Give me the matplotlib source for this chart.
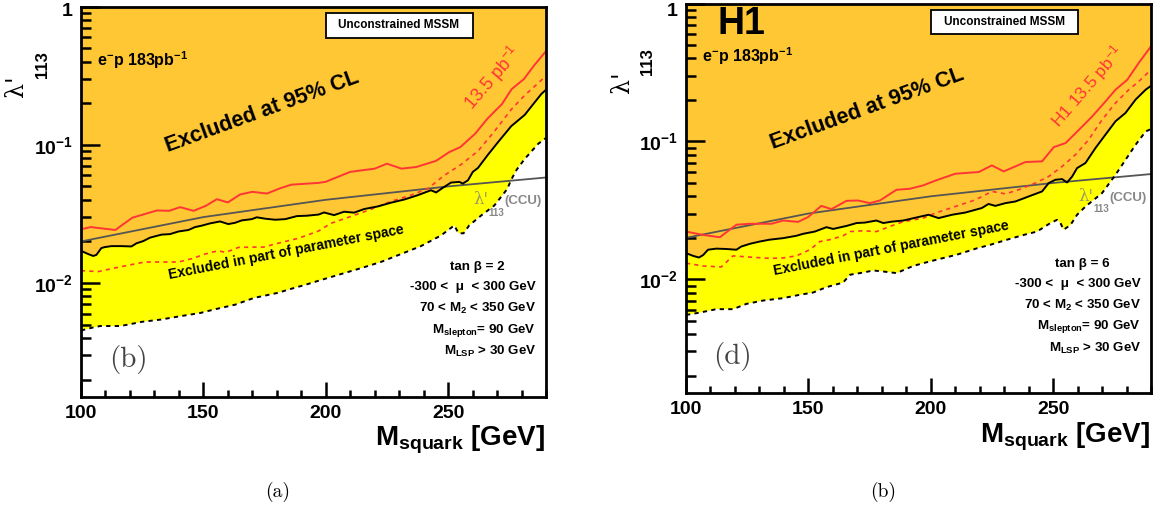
import matplotlib
matplotlib.use('Agg')
import matplotlib.pyplot as plt
from matplotlib.ticker import FixedLocator, NullFormatter, LogLocator, MultipleLocator, FixedFormatter
from matplotlib.patches import Rectangle
from matplotlib.transforms import ScaledTranslation
import numpy as np

# ---------------- data ----------------
ccu_m = [100, 150, 200, 250, 290]
ccu_l = [0.020, 0.030, 0.040, 0.050, 0.058]

# panel (a): tan beta = 2
a_red_m = [100, 104, 114, 121, 131, 136, 140.5, 146, 151, 155.5, 160, 165, 170, 176, 181, 186, 197, 200, 210,
           220, 225, 231, 237, 245, 250.5, 255, 261, 266, 272, 276, 281, 285, 290]
a_red_l = [0.0245, 0.0254, 0.0242, 0.0297, 0.0335, 0.0333, 0.0354, 0.0333, 0.0362, 0.0404, 0.0383, 0.0437,
           0.0457, 0.0444, 0.0482, 0.0515, 0.0530, 0.0540, 0.0637, 0.0672, 0.0730, 0.0672, 0.0691, 0.0764,
           0.0886, 0.0962, 0.120, 0.154, 0.197, 0.253, 0.299, 0.372, 0.476]
a_blk_m = [100, 103, 105, 106.3, 108.3, 109.7, 112.4, 116.5, 120.6, 122.7, 125.4, 128.2, 132.9, 136.4, 139.8,
           143.9, 146.6, 149.3, 152.7, 156.8, 160.2, 163, 165.7, 169.8, 171.8, 175.3, 179.4, 183.5, 188.2,
           192.3, 197.1, 199.3, 203.4, 207.5, 211.6, 215.7, 221.2, 226.6, 232.1, 237.6, 243, 245.1, 247.8,
           251.2, 254.6, 256, 258.1, 260.1, 262.2, 266.3, 270.4, 275.8, 281.3, 285.4, 288.1, 290]
a_blk_l = [0.0171, 0.0162, 0.0157, 0.0160, 0.0179, 0.0182, 0.0185, 0.0185, 0.0184, 0.0194, 0.0201, 0.0213,
           0.0224, 0.0226, 0.0236, 0.0242, 0.0254, 0.0260, 0.0270, 0.0279, 0.0267, 0.0273, 0.0284, 0.0290,
           0.0299, 0.0292, 0.0287, 0.0290, 0.0305, 0.0307, 0.0313, 0.0324, 0.0310, 0.0328, 0.0323, 0.0343,
           0.0358, 0.0381, 0.0402, 0.0432, 0.0469, 0.0452, 0.0488, 0.0533, 0.0539, 0.0524, 0.0553, 0.0637,
           0.0680, 0.0848, 0.1045, 0.1364, 0.1645, 0.203, 0.233, 0.250]
a_rdash_m = [100, 107, 112.4, 120.6, 126.1, 131.6, 139.8, 145.2, 150.7, 153.4, 156.1, 158.9, 161.6, 164.3,
             169.8, 174.6, 178, 183.5, 188.9, 197.1, 202, 210.2, 218.4, 226.6, 234.8, 241.7, 248.4, 255.3,
             262.2, 268.9, 275.8, 281.3, 285.4, 290]
a_rdash_l = [0.0123, 0.0121, 0.0127, 0.0136, 0.0142, 0.0142, 0.0142, 0.0150, 0.0162, 0.0167, 0.0171, 0.0167,
             0.0173, 0.0181, 0.0182, 0.0182, 0.0189, 0.0200, 0.0211, 0.0238, 0.0270, 0.0303, 0.0341, 0.0389,
             0.0432, 0.0482, 0.0600, 0.0720, 0.0900, 0.125, 0.180, 0.228, 0.265, 0.315]
a_low_m = [100, 104.2, 107.8, 116, 119.3, 124.7, 132.4, 140.6, 148.8, 154.2, 163, 170.6, 180.2, 187, 191.7,
           197.1, 206.1, 214.3, 222.5, 230.7, 238.9, 247.1, 252.5, 254.3, 256.3, 258.6, 263.5, 268.9, 274.2,
           275.8, 278, 281.3, 286.8, 290]
a_low_l = [0.00454, 0.00474, 0.00489, 0.00489, 0.00501, 0.00524, 0.00544, 0.00576, 0.00608, 0.00643, 0.00698,
           0.00780, 0.00848, 0.00921, 0.00972, 0.0104, 0.0116, 0.0128, 0.0142, 0.0162, 0.0185, 0.0221, 0.0261,
           0.0229, 0.0229, 0.0261, 0.0308, 0.0364, 0.0480, 0.0560, 0.0660, 0.0790, 0.1016, 0.112]

# panel (b): tan beta = 6
b_red_m = [100, 107, 113.8, 120.6, 126.1, 134.9, 139.7, 145.8, 149.9, 155.3, 159.4, 165.6, 170.3, 175.1, 179.2,
           186, 191.5, 196.9, 201.8, 210, 219.6, 225, 229.8, 238.7, 245.5, 250.3, 255.1, 260.6, 266, 271.4,
           275.5, 280.3, 285, 290]
b_red_l = [0.0222, 0.0210, 0.0202, 0.0249, 0.0253, 0.0253, 0.0267, 0.0261, 0.0283, 0.0341, 0.0323, 0.0371,
           0.0373, 0.0357, 0.0373, 0.0446, 0.0454, 0.0480, 0.0519, 0.0583, 0.0600, 0.0670, 0.0606, 0.0709,
           0.0717, 0.0910, 0.0973, 0.1216, 0.152, 0.195, 0.237, 0.280, 0.371, 0.489]
b_blk_m = [100, 102.9, 105.3, 107, 109, 112.4, 116.5, 120.6, 122.6, 126.1, 130.1, 134.2, 139.7, 145.1, 147.9,
           152.6, 157.4, 160.1, 165.6, 169.7, 173.1, 177.8, 180.6, 184, 188.8, 194.2, 199.1, 203.2, 208.7,
           214.1, 220.9, 223.6, 226.4, 230.5, 234.6, 240, 245.5, 248.2, 250.9, 253.7, 255.7, 257.8, 259.8,
           263.2, 267.3, 271.4, 275.5, 279.6, 283.7, 287.8, 290]
b_blk_l = [0.0155, 0.0148, 0.0144, 0.0150, 0.0164, 0.0167, 0.0166, 0.0164, 0.0173, 0.0181, 0.0188, 0.0194,
           0.0199, 0.0207, 0.0214, 0.0222, 0.0239, 0.0232, 0.0244, 0.0256, 0.0258, 0.0267, 0.0256, 0.0262,
           0.0267, 0.0281, 0.0294, 0.0278, 0.0294, 0.0305, 0.0329, 0.0352, 0.0341, 0.0357, 0.0367, 0.0399,
           0.0434, 0.0499, 0.0527, 0.0533, 0.0504, 0.0557, 0.0641, 0.0697, 0.0895, 0.112, 0.140, 0.161,
           0.201, 0.237, 0.253]
b_rdash_m = [100, 107, 114.4, 119.2, 126.1, 134.2, 139.7, 145.1, 150.6, 154.7, 158.8, 164.2, 167, 172.4, 177.8,
             183.3, 188.8, 196.9, 201.8, 210, 218.2, 225, 230.5, 235.9, 242.7, 248.2, 253.7, 259.1, 264.5,
             270, 275.5, 280.9, 285, 290]
b_rdash_l = [0.0131, 0.0125, 0.0123, 0.0148, 0.0145, 0.0142, 0.0143, 0.0148, 0.0164, 0.0188, 0.0194, 0.0207,
             0.0222, 0.0225, 0.0222, 0.0242, 0.0262, 0.0278, 0.0302, 0.0337, 0.0377, 0.0434, 0.0417, 0.0446,
             0.0499, 0.0557, 0.0659, 0.080, 0.1028, 0.1435, 0.190, 0.237, 0.272, 0.331]
b_low_m = [100, 105.6, 112.4, 119.2, 124.7, 131.5, 139.7, 146.5, 151.9, 157.4, 164.2, 167, 172.4, 176.5, 180.6,
           186, 192.8, 196.9, 202.5, 210.7, 218.9, 224.3, 231.2, 238, 243.4, 248.9, 251.6, 253, 254.3, 257.1,
           259.8, 263.2, 270, 275.5, 279.6, 283.7, 287.8, 290]
b_low_l = [0.00552, 0.00574, 0.00608, 0.00608, 0.00664, 0.00702, 0.00731, 0.00773, 0.00802, 0.00878, 0.00948,
           0.0108, 0.0112, 0.0116, 0.0114, 0.0111, 0.0125, 0.0131, 0.0139, 0.0151, 0.0168, 0.0178, 0.0194,
           0.0210, 0.0222, 0.0256, 0.0270, 0.0256, 0.0229, 0.0248, 0.0294, 0.0337, 0.0422, 0.0573, 0.0736,
           0.0946, 0.118, 0.123]

y_ticks = [0.01, 0.1, 1]
y_ticklabels = ['10$^{-2}$', '10$^{-1}$', '1']

# ---------------- styling ----------------
W, H = 1167, 514
plt.rcParams['font.family'] = ['Liberation Sans', 'DejaVu Sans']
plt.rcParams['mathtext.default'] = 'regular'

ORANGE = '#FFC733'
YELLOW = '#FFFF00'
RED = '#FF3535'
GRAY = '#555555'

fig = plt.figure(figsize=(W / 100, H / 100), dpi=100)


def fbox(l, t, r, b):
    return [l / W, 1 - b / H, (r - l) / W, (b - t) / H]


def ft(px, py, s, **kw):
    kw.setdefault('ha', 'center')
    kw.setdefault('va', 'center')
    return fig.text(px / W, 1 - py / H, s, **kw)


def panel(ax, red_m, red_l, blk_m, blk_l, rd_m, rd_l, low_m, low_l, top_shift):
    ax.set_yscale('log')
    ax.fill_between(blk_m, blk_l, 1.0, color=ORANGE, lw=0, zorder=1)
    ax.fill(np.r_[blk_m, low_m[::-1]], np.r_[blk_l, low_l[::-1]], color=YELLOW, lw=0, zorder=1)
    ax.plot(ccu_m, ccu_l, color=GRAY, lw=1.3, zorder=3)
    ax.plot(rd_m, rd_l, color=RED, lw=1.2, ls=(0, (2.5, 2.5)), zorder=3)
    ax.plot(red_m, red_l, color=RED, lw=1.4, zorder=3)
    ax.plot(blk_m, blk_l, color='black', lw=1.4, zorder=4)
    ax.plot(low_m, low_l, color='black', lw=1.4, ls=(0, (2.2, 2.2)), zorder=4)
    ax.set_xlim(100, 290)
    ax.set_ylim(0.0015, 1)
    ax.xaxis.set_major_locator(MultipleLocator(50))
    ax.xaxis.set_minor_locator(MultipleLocator(10))
    ax.yaxis.set_major_locator(FixedLocator(y_ticks))
    ax.yaxis.set_major_formatter(FixedFormatter(y_ticklabels))
    ax.yaxis.set_minor_locator(LogLocator(base=10, subs=np.arange(2, 10)))
    ax.yaxis.set_minor_formatter(NullFormatter())
    ax.tick_params(which='both', direction='in', top=False, right=False, width=1.8,
                   labelsize=14, pad=6)
    ax.tick_params(axis='x', which='major', length=10.5)
    ax.tick_params(axis='x', which='minor', length=5)
    ax.tick_params(axis='y', which='major', length=13.5)
    ax.tick_params(axis='y', which='minor', length=7)
    for lab in ax.get_xticklabels() + ax.get_yticklabels():
        lab.set_fontweight('bold')
    # keep the "1" label inside the figure, as in the reference
    for tk in ax.yaxis.get_major_ticks():
        if tk.get_loc() == 1:
            tk.label1.set_transform(tk.label1.get_transform() +
                                    ScaledTranslation(0, -top_shift / 100, fig.dpi_scale_trans))
    for sp in ax.spines.values():
        sp.set_linewidth(2)
        sp.set_zorder(6)


axL = fig.add_axes(fbox(81, 6.5, 546, 397))
axR = fig.add_axes(fbox(686, 3.5, 1151, 393))
panel(axL, a_red_m, a_red_l, a_blk_m, a_blk_l, a_rdash_m, a_rdash_l, a_low_m, a_low_l, 2.5)
panel(axR, b_red_m, b_red_l, b_blk_m, b_blk_l, b_rdash_m, b_rdash_l, b_low_m, b_low_l, 5.5)


def annotate(dx, dy, tanb, label135, caption, sub):
    B = dict(fontweight='bold')
    ft(97 + dx, 60 + dy, 'e$^{-}$p 183pb$^{-1}$', ha='left', fontsize=11.5, **B)
    ft(262 + dx, 112 + dy, 'Excluded at 95% CL', rotation=20, fontsize=15.5, rotation_mode='anchor', **B)
    ft(label135[0], label135[1], label135[2], rotation=49, fontsize=label135[3], color=RED,
       rotation_mode='anchor')
    fig.add_artist(Rectangle(((325.7 + dx) / W, 1 - (37.7 + dy) / H), 147 / W, 24.4 / H,
                             transform=fig.transFigure, fc='white', ec='black', lw=1.3, zorder=7))
    ft(399 + dx, 25.5 + dy, 'Unconstrained MSSM', fontsize=8.5, zorder=8, **B)
    ft(286 + dx, 252 + dy, 'Excluded in part of parameter space', rotation=11, fontsize=10,
       rotation_mode='anchor', **B)
    ft(477 + dx, 267 + dy, 'tan β = %d' % tanb, fontsize=9.6, **B)
    rows = ['-300 <  μ  < 300 GeV', '70 < M$_{2}$ < 350 GeV', 'M$_{slepton}$= 90 GeV', 'M$_{LSP}$ > 30 GeV']
    for i, r in enumerate(rows):
        ft(536 + dx, 287 + dy + 21.5 * i, r, ha='right', fontsize=9.6, **B)
    ft(473 + dx, 200 + dy, "λ'", ha='left', fontsize=12, color='#9a9a68', family='DejaVu Serif')
    ft(488 + dx, 213 + dy, '113', ha='left', fontsize=7, color='#888888', **B)
    ft(504 + dx, 201.5 + dy, '(CCU)', ha='left', fontsize=9.5, color='#888888', **B)
    ft(128 + dx, 360 + dy, sub, fontsize=21, family='cmr10', color='#444444')
    ft(278 + dx, 492, caption, fontsize=14, family='cmr10')
    ft(17 + dx, 86 + dy, "λ'", rotation=90, fontsize=17, family='DejaVu Serif')
    ft(42.5 + dx, 65 + dy, '113', rotation=90, fontsize=12, **B)
    ft(545 + dx, 446 + dy, 'M$_{squark}$ [GeV]', ha='right', va='baseline', fontsize=20, **B)


annotate(0, 0, 2, (493, 78, '13.5 pb$^{-1}$', 13), '(a)', '(b)')
annotate(605, -3.5, 6, (1087, 87, 'H1 13.5 pb$^{-1}$', 12.5), '(b)', '(d)')
ft(717, 23.5, 'H1', ha='left', fontsize=27, fontweight='bold')

fig.savefig('out.png', dpi=100)
